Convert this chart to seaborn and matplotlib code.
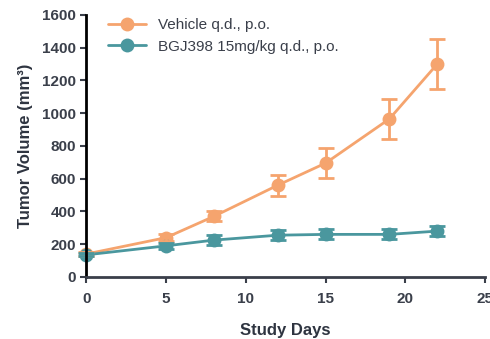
import matplotlib
matplotlib.use("Agg")
import matplotlib.pyplot as plt
import seaborn as sns
import pandas as pd

# Study data
days = [0, 5, 8, 12, 15, 19, 22]
vehicle_mean = [140, 240, 370, 560, 695, 965, 1300]
vehicle_err = [10, 20, 30, 65, 90, 120, 150]
bgj_mean = [135, 190, 225, 255, 260, 260, 280]
bgj_err = [10, 20, 30, 30, 30, 30, 30]
labels = ["Vehicle q.d., p.o.", "BGJ398 15mg/kg q.d., p.o."]
colors = ["#F5A46E", "#4A979E"]

sns.set_style("white")
plt.rcParams["font.family"] = ["Liberation Sans", "DejaVu Sans"]

df = pd.concat([
    pd.DataFrame({"day": days, "volume": vehicle_mean, "group": labels[0]}),
    pd.DataFrame({"day": days, "volume": bgj_mean, "group": labels[1]}),
])

fig = plt.figure(figsize=(4.9, 3.39), dpi=100)
ax = fig.add_axes([0.176, 0.183, 0.814, 0.773])

sns.lineplot(data=df, x="day", y="volume", hue="group", palette=colors,
             marker="o", markersize=10, markeredgewidth=0, linewidth=2,
             ax=ax, clip_on=False)
for mean, err, c in [(vehicle_mean, vehicle_err, colors[0]), (bgj_mean, bgj_err, colors[1])]:
    ax.errorbar(days, mean, yerr=err, fmt="none", ecolor=c, elinewidth=2,
                capsize=6, capthick=2, clip_on=False)

ax.set_xlim(0, 25)
ax.set_ylim(0, 1600)
ax.set_xticks(range(0, 26, 5))
ax.set_yticks(range(0, 1601, 200))
for s in ["top", "right"]:
    ax.spines[s].set_visible(False)
ax.spines["left"].set_color("black")
ax.spines["left"].set_linewidth(2)
ax.spines["bottom"].set_color("#3a3f4a")
ax.spines["bottom"].set_linewidth(2)
ax.tick_params(axis="both", which="both", direction="out", length=4, width=1.5,
               colors="#3a3f4a", labelsize=11, bottom=True, left=True)
ax.tick_params(axis="x", pad=7)
for t in ax.get_xticklabels() + ax.get_yticklabels():
    t.set_fontweight("bold")

ax.set_xlabel("Study Days", fontsize=12, fontweight="bold", color="#2e3440", labelpad=12)
ax.set_ylabel("Tumor Volume (mm³)", fontsize=12, fontweight="bold", color="#2e3440",
              labelpad=6)

leg = ax.legend(loc="upper left", bbox_to_anchor=(0.02, 1.04), frameon=False,
                fontsize=11, handlelength=2.5, labelcolor="#3a3f4a")

fig.savefig("out.png", dpi=100)
